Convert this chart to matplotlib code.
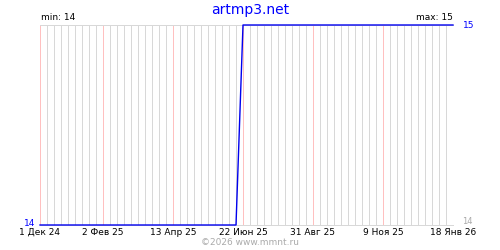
import matplotlib
matplotlib.use('Agg')
from matplotlib import pyplot as plt
import pandas as pd
from datetime import datetime

# Change points of the series (weekly samples, Sundays).
dates = ['2024-12-01', '2025-06-15', '2025-06-22', '2026-01-18']
values = [14, 14, 15, 15]

tick_dates = ['2024-12-01', '2025-02-02', '2025-04-13', '2025-06-22',
              '2025-08-31', '2025-11-09', '2026-01-18']
tick_labels = ['1 Дек 24', '2 Фев 25', '13 Апр 25', '22 Июн 25',
               '31 Авг 25', '9 Ноя 25', '18 Янв 26']

x = [datetime.strptime(d, '%Y-%m-%d') for d in dates]
ticks = [datetime.strptime(d, '%Y-%m-%d') for d in tick_dates]

fig = plt.figure(figsize=(5, 2.5), dpi=100)
ax = fig.add_axes([0.08, 0.1, 0.826, 0.8])

ax.set_xlim(ticks[0], ticks[-1])
ax.set_ylim(14, 15)

px = 0.72  # one pixel in points at dpi 100

# Weekly gray grid lines, pink ones at labelled dates.
weeks = [d.to_pydatetime() for d in pd.date_range(tick_dates[0], tick_dates[-1], freq='7D')]
weeks = [w for w in weeks if w not in ticks]
for w in weeks:
    ax.axvline(w, color='#d8d8d8', lw=px, antialiased=False, zorder=1)
for t in ticks:
    ax.axvline(t, color='#ffc0c0', lw=px, antialiased=False, zorder=1)

ax.set_xticks(ticks)
ax.set_xticklabels(tick_labels, fontsize=6.5)
ax.tick_params(axis='x', which='both', length=0, pad=2)
ax.set_yticks([])

for side in ['left', 'right']:
    ax.spines[side].set_visible(False)
for side in ['top', 'bottom']:
    ax.spines[side].set_color('#d8d8d8')
    ax.spines[side].set_linewidth(px)
    ax.spines[side].set_antialiased(False)

ax.plot(x, values, color='#0000ee', lw=1.0, clip_on=False, zorder=3)

# Labels around the plot.
fig.text(0.5, 0.96, 'artmp3.net', color='blue', fontsize=10,
         ha='center', va='center')
fig.text(0.082, 0.928, 'min: 14', fontsize=6.5, ha='left', va='center')
fig.text(0.905, 0.928, 'max: 15', fontsize=6.5, ha='right', va='center')
fig.text(0.925, 0.9, '15', color='blue', fontsize=6.5, ha='left', va='center')
fig.text(0.07, 0.105, '14', color='blue', fontsize=6.5, ha='right', va='center')
fig.text(0.925, 0.115, '14', color='#aaaaaa', fontsize=6, ha='left', va='center')
fig.text(0.5, 0.03, '©2026 www.mmnt.ru', color='#aaaaaa', fontsize=6.5,
         ha='center', va='center')

plt.savefig('out.png', dpi=100)
